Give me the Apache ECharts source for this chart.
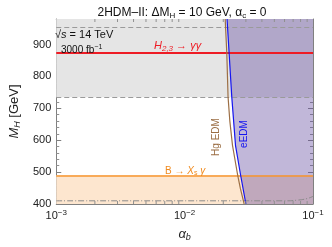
<!DOCTYPE html>
<html><head><meta charset="utf-8">
<script src="https://cdn.jsdelivr.net/npm/echarts@6/dist/echarts.min.js"></script>
<style>html,body{margin:0;padding:0;background:#fff}#c{width:332px;height:247px}</style>
</head><body><div id="c"></div>
<script>
// ---- data ----
var xRange = [0.001, 0.1];
var yRange = [400, 980];
var yTicks = [400, 500, 600, 700, 800, 900];
var xMinorTicks = [0.002,0.003,0.004,0.005,0.006,0.007,0.008,0.009,0.02,0.03,0.04,0.05,0.06,0.07,0.08,0.09];
// Hg EDM bound (alpha_b, M_H)
var hgAlpha = [0.0207, 0.0213, 0.0218, 0.0225, 0.0236, 0.0258, 0.0272, 0.0291];
var hgMass  = [980,    874,    735,    660,    584,    494,    448,    400];
// eEDM bound
var eAlpha = [0.0214, 0.0233, 0.0249, 0.0272, 0.0300];
var eMass  = [980,    735,    584,    494,    400];
// H_{2,3} -> gamma gamma (HL-LHC) exclusion band
var grayBand = [735, 980];
var grayDash = [735, 955];
var h23Line = 875;
// B -> X_s gamma
var bsgBand = [400, 490];
var bsgLine = 490;
// lower dash-dot curve
var lowAlpha = [0.001, 0.06, 0.075, 0.09, 0.1];
var lowMass  = [410,   410,  412,   417,  424];

function pairs(a, b){ return a.map(function(v,i){ return [v, b[i]]; }); }
var FONT = 'Liberation Sans, Arial, sans-serif';
var chart = echarts.init(document.getElementById('c'), null, {renderer:'canvas'});
var axisLineStyle = {color:'#808080', width:1};
var sup = {fontSize:8, verticalAlign:'top', padding:[0,0,6,0], fontFamily:FONT, color:'#222'};

var option = {
  animation:false,
  title:{
    text:'2HDM–II: ΔM{s|H} = 10 GeV, α{s|c} = 0',
    left:177, top:1, textAlign:'center',
    textStyle:{fontSize:12, fontWeight:'normal', fontFamily:FONT, color:'#111',
      rich:{s:{fontSize:8, fontFamily:FONT, color:'#111', padding:[6,0,0,0]}}}
  },
  grid:{left:41, right:19, top:19, bottom:36, containLabel:false},
  xAxis:[{
    type:'log', logBase:10, min:xRange[0], max:xRange[1],
    axisLine:{show:true, lineStyle:axisLineStyle, onZero:false},
    axisTick:{show:true, inside:true, length:5, lineStyle:{color:'#808080'}},
    splitLine:{show:false},
    axisLabel:{margin:5, fontFamily:FONT, fontSize:11, color:'#222',
      formatter:function(v){ var e=Math.round(Math.log10(v)); return '{b|10}{s|'+(e<0?'−':'')+Math.abs(e)+'}'; },
      rich:{b:{fontSize:11, fontFamily:FONT, color:'#222'}, s:sup}},
    name:'α{s|b}', nameLocation:'middle', nameGap:22,
    nameTextStyle:{fontSize:13, fontFamily:FONT, color:'#222', fontStyle:'italic',
      rich:{s:{fontSize:9, fontFamily:FONT, color:'#222', padding:[7,0,0,0]}}}
  },{
    type:'log', logBase:10, min:xRange[0], max:xRange[1], position:'top',
    axisLine:{show:true, lineStyle:axisLineStyle, onZero:false},
    axisTick:{show:true, inside:true, length:5, lineStyle:{color:'#808080'}},
    axisLabel:{show:false}, splitLine:{show:false}
  }],
  yAxis:[{
    type:'value', min:yRange[0], max:yRange[1], interval:100,
    axisLine:{show:true, lineStyle:axisLineStyle, onZero:false},
    axisTick:{show:true, inside:true, length:5, lineStyle:{color:'#808080'}},
    minorTick:{show:true, splitNumber:5, length:3, lineStyle:{color:'#909090'}},
    splitLine:{show:false},
    axisLabel:{margin:5, fontFamily:FONT, fontSize:11, color:'#222',
      formatter:function(v){ return yTicks.indexOf(v)>=0 ? String(v) : ''; }},
    name:'{m|M}{s|H} [GeV]', nameLocation:'middle', nameGap:27,
    nameTextStyle:{fontSize:13, fontFamily:FONT, color:'#222',
      rich:{m:{fontSize:13, fontFamily:FONT, fontStyle:'italic', color:'#222'},
            s:{fontSize:9, fontFamily:FONT, fontStyle:'italic', color:'#222', padding:[6,0,0,0]}}}
  },{
    type:'value', min:yRange[0], max:yRange[1], interval:100, position:'right',
    axisLine:{show:true, lineStyle:axisLineStyle, onZero:false},
    axisTick:{show:true, inside:true, length:5, lineStyle:{color:'#808080'}},
    minorTick:{show:true, splitNumber:5, length:3, lineStyle:{color:'#909090'}},
    axisLabel:{show:false}, splitLine:{show:false}
  }],
  series:[
    { // bands
      type:'line', data:[], z:1, silent:true,
      markArea:{silent:true, data:[
        [{yAxis:grayBand[0], itemStyle:{color:'#e5e5e5'}},{yAxis:grayBand[1]}],
        [{yAxis:bsgBand[0], itemStyle:{color:'#fde6cf'}},{yAxis:bsgBand[1]}]
      ]}
    },
    { // eEDM excluded region
      type:'custom', z:2, silent:true, data:[0],
      renderItem:function(params, api){
        var pts = pairs(eAlpha, eMass).map(function(p){ return api.coord(p); });
        pts.push(api.coord([xRange[1], eMass[eMass.length-1]]));
        pts.push(api.coord([xRange[1], eMass[0]]));
        return {type:'polygon', shape:{points:pts}, style:{fill:'rgba(100,75,160,0.40)'}};
      }
    },
    { // dashed gray lines
      type:'line', data:[], z:3, silent:true,
      markLine:{silent:true, symbol:'none', label:{show:false},
        lineStyle:{color:'#9a9a9a', type:[5,3], width:1},
        data:[{yAxis:grayDash[0]},{yAxis:grayDash[1]}]}
    },
    { // H23 line
      type:'line', data:[], z:4, silent:true,
      markLine:{silent:true, symbol:'none', label:{show:false},
        lineStyle:{color:'#ee1c25', type:'solid', width:2},
        data:[{yAxis:h23Line}]}
    },
    { // bsg line
      type:'line', data:[], z:4, silent:true,
      markLine:{silent:true, symbol:'none', label:{show:false},
        lineStyle:{color:'#f7962f', type:'solid', width:1.5},
        data:[{yAxis:bsgLine}]}
    },
    { // low dash-dot
      type:'line', data:pairs(lowAlpha, lowMass), z:4, symbol:'none', smooth:true,
      lineStyle:{color:'#8a8a8a', width:1, type:[6,2,1,2]}
    },
    { // Hg EDM
      type:'line', data:pairs(hgAlpha, hgMass), z:5, symbol:'none', smooth:false,
      lineStyle:{color:'#9c6f45', width:1.2}
    },
    { // eEDM
      type:'line', data:pairs(eAlpha, eMass), z:5, symbol:'none', smooth:false,
      lineStyle:{color:'#1515f0', width:1.2}
    },
    { // log minor ticks (bottom & top)
      type:'custom', z:6, silent:true, data:xMinorTicks.map(function(v){return [v];}),
      encode:{x:0},
      renderItem:function(params, api){
        var b = api.coord([api.value(0), yRange[0]]);
        var t = api.coord([api.value(0), yRange[1]]);
        return {type:'group', children:[
          {type:'line', shape:{x1:b[0], y1:b[1], x2:b[0], y2:b[1]-3}, style:{stroke:'#909090', lineWidth:1}},
          {type:'line', shape:{x1:t[0], y1:t[1], x2:t[0], y2:t[1]+3}, style:{stroke:'#909090', lineWidth:1}}
        ]};
      }
    }
  ],
  graphic:[
    {type:'text', left:55, top:29, z:100, style:{text:'√{o|s} = 14 TeV', font:'11px '+FONT, fill:'#111',
      rich:{o:{fontSize:11, fontFamily:FONT, fontStyle:'italic'}}}},
    {type:'text', left:61, top:44, z:100, style:{text:'3000 fb{s|−1}', font:'10px '+FONT, fill:'#111',
      rich:{s:{fontSize:7, fontFamily:FONT, padding:[0,0,5,0], verticalAlign:'top'}}}},
    {type:'text', left:154, top:40, z:100, style:{text:'H{s|2,3} → γγ', font:'italic 11px '+FONT, fill:'#ee1c25',
      rich:{s:{fontSize:8, fontStyle:'italic', fontFamily:FONT, fill:'#ee1c25', padding:[6,0,0,0]}}}},
    {type:'text', left:165, top:166, z:100, style:{text:'B → {i|X}{s|s} {i|γ}', font:'10px '+FONT, fill:'#f08a1e',
      rich:{i:{fontStyle:'italic', fontSize:10, fontFamily:FONT, fill:'#f08a1e'}, s:{fontSize:7, fontFamily:FONT, fill:'#f08a1e', padding:[5,0,0,0]}}}},
    {type:'text', x:216, y:137, rotation:Math.PI/2, z:100, style:{text:'Hg EDM', font:'10px '+FONT, fill:'#9c6f45', align:'center', verticalAlign:'middle'}},
    {type:'text', x:244, y:134, rotation:Math.PI/2, z:100, style:{text:'eEDM', font:'10px '+FONT, fill:'#1515f0', align:'center', verticalAlign:'middle'}}
  ]
};
chart.setOption(option);
</script></body></html>
